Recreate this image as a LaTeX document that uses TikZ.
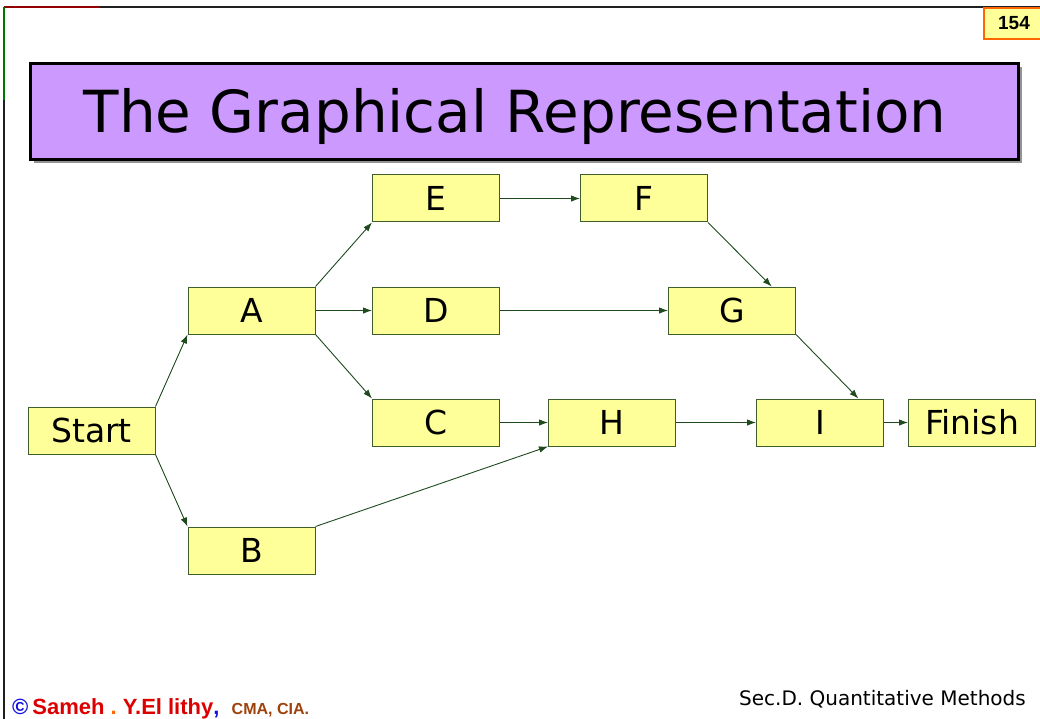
\documentclass[tikz,border=0pt]{standalone}
\usepackage{fontspec}
\setmainfont{DejaVu Sans}
\newfontfamily\arialfont{Liberation Sans}
\usetikzlibrary{arrows.meta,calc}
\definecolor{boxfill}{HTML}{FFFF99}
\definecolor{boxline}{HTML}{3F5F2A}
\definecolor{edgeline}{HTML}{1E4A1E}
\definecolor{titlefill}{HTML}{CC99FF}
\definecolor{numline}{HTML}{FF6600}
\definecolor{authred}{HTML}{DD0000}
\definecolor{authorange}{HTML}{FF6600}
\definecolor{authbrown}{HTML}{A0400A}
\definecolor{copyblue}{HTML}{1010DD}
\definecolor{frameline}{HTML}{202020}
\definecolor{framered}{HTML}{960000}
\definecolor{framegreen}{HTML}{007800}
\tikzset{
  act/.style={draw=boxline, fill=boxfill, line width=1pt, minimum width=127pt, minimum height=47pt, inner sep=0pt, font=\fontsize{33}{38}\selectfont},
  link/.style={draw=edgeline, line width=0.9pt, -{Latex[length=9pt,width=6.5pt]}},
}
\begin{document}
\begin{tikzpicture}[x=1pt,y=-1pt]
\useasboundingbox (0,0) rectangle (1040,719);
% frame
\draw[frameline, line width=1.6pt] (4,7) -- (1040,7);
\draw[frameline, line width=1.6pt] (4,7) -- (4,719);
\draw[framered, line width=1.6pt] (4,7) -- (100,7);
\draw[framegreen, line width=1.2pt] (4,7) -- (4,100);
% page number
\node[draw=numline, fill=boxfill, line width=2pt, minimum width=60pt, minimum height=31pt, inner sep=0pt, anchor=north west, font=\arialfont\bfseries\fontsize{19}{22}\selectfont] (num) at (983,7) {154};
% title
\fill[gray!85] (34,67) rectangle (1022,163);
\node[draw=black, fill=titlefill, line width=3pt, minimum width=988pt, minimum height=96pt, inner sep=0pt, anchor=north west] (title) at (29,62) {};
\node[anchor=base, inner sep=0pt, font=\fontsize{58}{66}\selectfont] (titletext) at (515,133) {The Graphical Representation};
% activities
\node[act] (start) at (91.5,430.5) {Start};
\node[act] (A) at (251.5,310.5) {A};
\node[act] (B) at (251.5,550.5) {B};
\node[act] (E) at (436,198.5) {E};
\node[act] (D) at (436,310.5) {D};
\node[act] (C) at (436,422.5) {C};
\node[act] (F) at (644,198.5) {F};
\node[act] (G) at (732,310.5) {G};
\node[act] (H) at (612,422.5) {H};
\node[act] (I) at (820,422.5) {I};
\node[act] (fin) at (972,422.5) {Finish};
% connectors
\draw[link] (start.north east) -- (A.south west);
\draw[link] (start.south east) -- (B.north west);
\draw[link] (A.north east) -- (E.south west);
\draw[link] (A.east) -- (D.west);
\draw[link] (A.south east) -- (C.north west);
\draw[link] (E.east) -- (F.west);
\draw[link] (F.south east) -- ($(G.north west)!0.81!(G.north east)$);
\draw[link] (D.east) -- (G.west);
\draw[link] (G.south east) -- ($(I.north west)!0.8!(I.north east)$);
\draw[link] (C.east) -- (H.west);
\draw[link] (B.north east) -- (H.south west);
\draw[link] (H.east) -- (I.west);
\draw[link] (I.east) -- (fin.west);
% footer
\node[anchor=base west, inner sep=0pt, font=\arialfont\bfseries\fontsize{22}{25}\selectfont] (author) at (12,714) {\textcolor{copyblue}{\char"00A9}\kern4pt\textcolor{authred}{Sameh}\ \textcolor{authorange}{.}\ \textcolor{authred}{Y.El lithy}\textcolor{copyblue}{,}\ \ \textcolor{authbrown}{\fontsize{16}{19}\selectfont CMA, CIA.}};
\node[anchor=base east, inner sep=0pt, font=\fontsize{20}{23}\selectfont] (sec) at (1026,705) {Sec.D. Quantitative Methods};
\end{tikzpicture}
\end{document}
